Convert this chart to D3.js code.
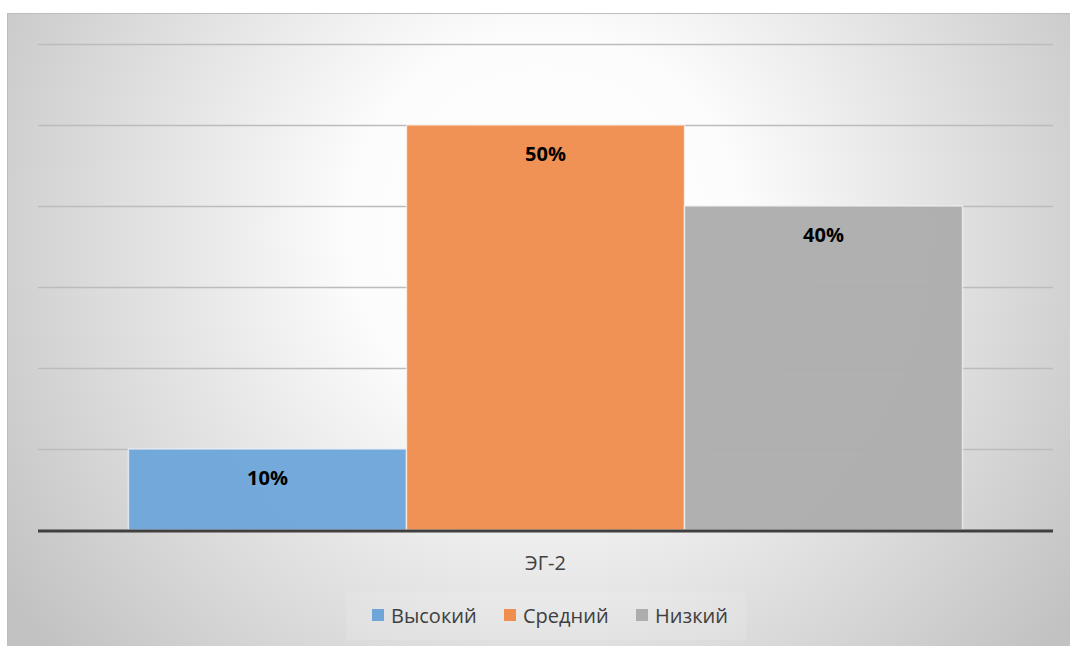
<!DOCTYPE html>
<html><head><meta charset="utf-8">
<script src="https://cdn.jsdelivr.net/npm/d3@7"></script>
<style>body{margin:0;background:#fff;}svg{display:block;}</style>
</head><body>
<svg id="c" width="1070" height="646"></svg>
<script>
const categories = ["ЭГ-2"];
const seriesNames = ["Высокий", "Средний", "Низкий"];
const seriesValues = [0.10, 0.50, 0.40];
const seriesColors = ["#6ea6da", "#ef8e4f", "#adadad"];
const yTicks = [0, 0.1, 0.2, 0.3, 0.4, 0.5, 0.6];

const svg = d3.select("#c");
const defs = svg.append("defs");
const rg = defs.append("radialGradient").attr("id","bg")
  .attr("gradientUnits","userSpaceOnUse")
  .attr("cx",545).attr("cy",230).attr("r",650).attr("fx",545).attr("fy",230);
rg.append("stop").attr("offset","0").attr("stop-color","#ffffff");
rg.append("stop").attr("offset","0.3").attr("stop-color","#fcfcfc");
rg.append("stop").attr("offset","1").attr("stop-color","#c2c2c2");

svg.append("rect").attr("x",7).attr("y",13).attr("width",1063).attr("height",633)
  .attr("fill","url(#bg)");
svg.append("line").attr("x1",7).attr("x2",1070).attr("y1",13.5).attr("y2",13.5).attr("stroke","#bdbdbd").attr("stroke-width",1);
svg.append("line").attr("x1",7.5).attr("x2",7.5).attr("y1",13).attr("y2",646).attr("stroke","#bdbdbd").attr("stroke-width",1);

const x0 = d3.scaleBand().domain(categories).range([38, 1053]).paddingInner(0).paddingOuter(0.1085);
const x1 = d3.scaleBand().domain(seriesNames).range([0, x0.bandwidth()]).padding(0);
const y = d3.scaleLinear().domain([0, 0.6]).range([530, 44]);

// gridlines
svg.append("g").selectAll("line").data(yTicks.filter(d=>d>0)).join("line")
  .attr("x1",38).attr("x2",1053)
  .attr("y1",d=>Math.round(y(d))+0.5).attr("y2",d=>Math.round(y(d))+0.5)
  .attr("stroke","#bcbcbc").attr("stroke-width",1.5);

// bars
const g = svg.append("g").attr("transform",`translate(${x0(categories[0])},0)`);
g.selectAll("rect").data(seriesNames).join("rect")
  .attr("x",d=>x1(d)).attr("width",x1.bandwidth())
  .attr("y",(d,i)=>y(seriesValues[i])).attr("height",(d,i)=>y(0)-y(seriesValues[i]))
  .attr("fill",(d,i)=>seriesColors[i]).attr("fill-opacity",0.97)
  .attr("stroke","#ffffff").attr("stroke-opacity",0.6).attr("stroke-width",1.5);

g.selectAll("text").data(seriesNames).join("text")
  .attr("x",d=>x1(d)+x1.bandwidth()/2)
  .attr("y",(d,i)=>y(seriesValues[i])+28)
  .attr("text-anchor","middle").attr("dominant-baseline","central")
  .attr("font-family","'Open Sans', sans-serif").attr("font-weight","bold").attr("font-size",20)
  .attr("fill","#000")
  .text((d,i)=>d3.format(".0%")(seriesValues[i]));

// axis line
svg.append("line").attr("x1",38).attr("x2",1053).attr("y1",y(0)+1).attr("y2",y(0)+1)
  .attr("stroke","#404040").attr("stroke-width",3);

// category label
const xAxis = svg.append("g").attr("transform",`translate(0,${y(0)})`)
  .call(d3.axisBottom(x0).tickSize(0).tickPadding(0));
xAxis.select(".domain").remove();
xAxis.selectAll("text").attr("y",32).attr("dy","0")
  .attr("dominant-baseline","central")
  .attr("font-family","'Open Sans', sans-serif").attr("font-size",20).attr("fill","#404040");

// legend
svg.append("rect").attr("x",346).attr("y",592).attr("width",400).attr("height",48)
  .attr("fill","#ffffff").attr("fill-opacity",0.12);
const legX = [372, 504, 636];
const leg = svg.append("g").selectAll("g").data(seriesNames).join("g")
  .attr("transform",(d,i)=>`translate(${legX[i]},615)`);
leg.append("rect").attr("x",0).attr("y",-6).attr("width",12).attr("height",12)
  .attr("fill",(d,i)=>seriesColors[i]);
leg.append("text").attr("x",19).attr("y",0).attr("dominant-baseline","central")
  .attr("font-family","'Open Sans', sans-serif").attr("font-size",20).attr("fill","#404040")
  .text(d=>d);
</script>
</body></html>
